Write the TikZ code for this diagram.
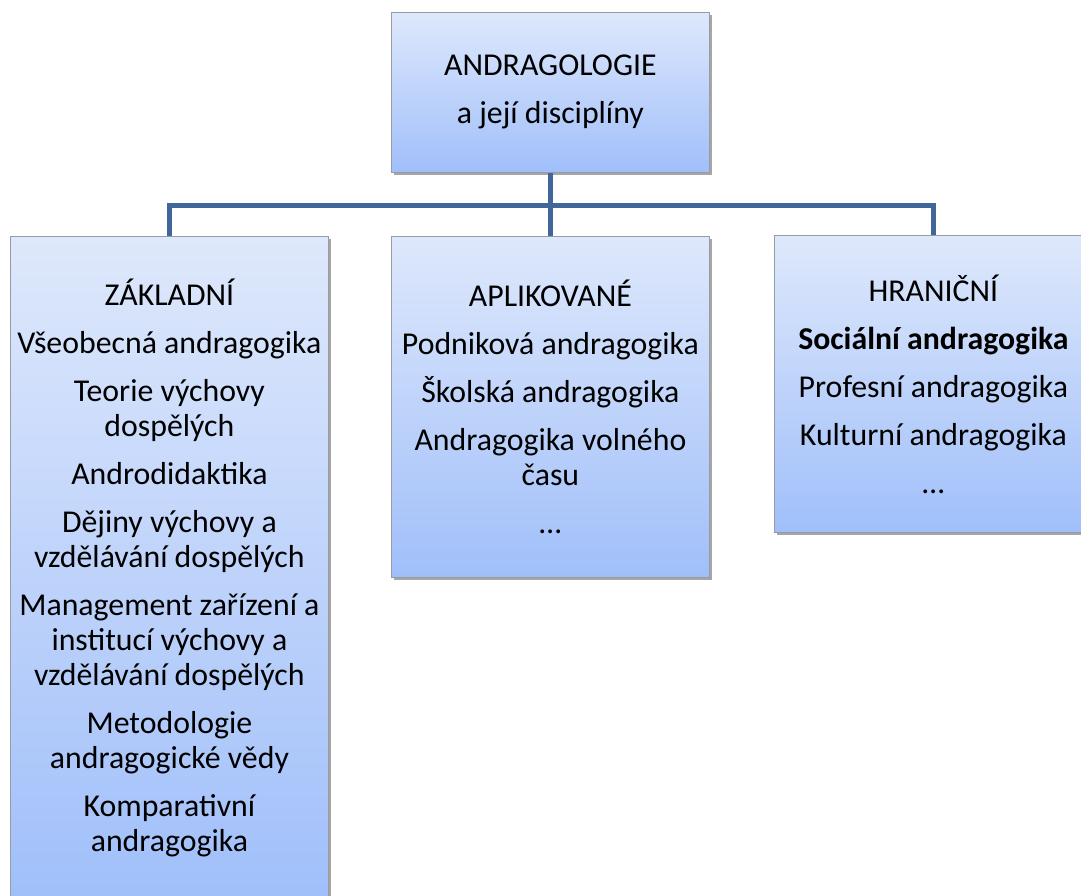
\documentclass[tikz,border=0pt]{standalone}
\usepackage{fontspec}
\setmainfont{Carlito}
\usetikzlibrary{shadows}
\definecolor{boxtop}{RGB}{222,232,251}
\definecolor{boxbot}{RGB}{160,191,250}
\definecolor{boxline}{RGB}{150,155,165}
\definecolor{conncol}{RGB}{65,103,154}
\tikzset{
  box/.style={draw=boxline, line width=0.8pt, top color=boxtop, bottom color=boxbot,
    minimum width=318, align=center, inner sep=0pt,
    font=\fontsize{31.8}{35}\selectfont,
    drop shadow={shadow xshift=2.5pt, shadow yshift=-2.5pt, opacity=0.35, fill=black}},
  conn/.style={draw=conncol, line width=5pt}
}
\begin{document}
\begin{tikzpicture}[x=1pt,y=-1pt]
\clip (0,0) rectangle (1081,895);
\fill[white] (0,0) rectangle (1081,895);
\node[box, minimum height=160, anchor=north west] (top) at (391,12)
  {ANDRAGOLOGIE\\[13pt] a její disciplíny};
\node[box, minimum height=664, anchor=north west] (left) at (10,236)
  {ZÁKLADNÍ\\[13pt]
   Všeobecná andragogika\\[13pt]
   Teorie výchovy\\ dospělých\\[13pt]
   Androdidaktika\\[13pt]
   Dějiny výchovy a\\ vzdělávání dospělých\\[13pt]
   Management zařízení a\\ institucí výchovy a\\ vzdělávání dospělých\\[13pt]
   Metodologie\\ andragogické vědy\\[13pt]
   Komparativní\\ andragogika};
\node[box, minimum height=341, anchor=north west] (mid) at (391,236)
  {APLIKOVANÉ\\[13pt]
   Podniková andragogika\\[13pt]
   Školská andragogika\\[13pt]
   Andragogika volného\\ času\\[13pt]
   …};
\node[box, minimum height=297, anchor=north west] (right) at (774,235)
  {HRANIČNÍ\\[13pt]
   \textbf{Sociální andragogika}\\[13pt]
   Profesní andragogika\\[13pt]
   Kulturní andragogika\\[13pt]
   …};
\coordinate (bus) at (550,205);
\draw[conn] (top.south) -- (top.south |- bus);
\draw[conn] (top.south |- bus) -| (left.north);
\draw[conn] (top.south |- bus) -| (right.north);
\draw[conn] (top.south |- bus) -- (mid.north);
\end{tikzpicture}
\end{document}
